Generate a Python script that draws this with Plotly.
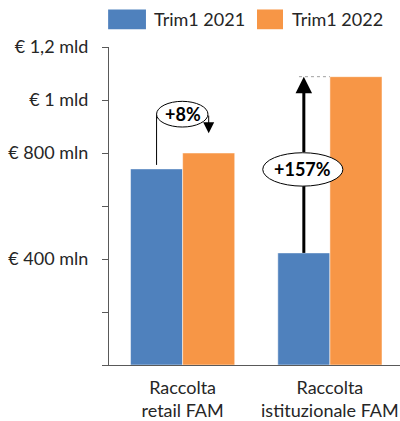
import plotly.graph_objects as go

categories = ["Raccolta<br>retail FAM", "Raccolta<br>istituzionale FAM"]
series_names = ["Trim1 2021", "Trim1 2022"]
values_2021 = [740, 423]
values_2022 = [800, 1088]
tick_vals = [0, 200, 400, 600, 800, 1000, 1200]
tick_text = ["", "", "€ 400 mln", "", "€ 800 mln", "€ 1 mld", "€ 1,2 mld"]
growth_labels = ["+8%", "+157%"]

BLUE = "#4F81BD"
ORANGE = "#F79646"
FONT = "Lato"
AX = "#595959"
TXT = "#262626"
FS = 18

fig = go.Figure()
fig.add_trace(go.Bar(x=categories, y=values_2021, name=series_names[0],
                     marker=dict(color=BLUE, line=dict(color="white", width=0.5)),
                     showlegend=False))
fig.add_trace(go.Bar(x=categories, y=values_2022, name=series_names[1],
                     marker=dict(color=ORANGE, line=dict(color="white", width=0.5)),
                     showlegend=False))

off = 0.177
shapes = []
annotations = []

# retail: +8%
shapes.append(dict(type="line", xref="x", yref="y", x0=-off, x1=-off,
                   y0=values_2021[0] + 15, y1=947, line=dict(color="black", width=1)))
shapes.append(dict(type="circle", xref="x", yref="y", x0=-off, x1=off - 0.005,
                   y0=898, y1=995, fillcolor="white", line=dict(color="black", width=1),
                   layer="above"))
annotations.append(dict(x=off, y=values_2022[0] + 75, ax=off, ay=947, xref="x", yref="y",
                        axref="x", ayref="y", text="", showarrow=True, arrowhead=2,
                        arrowsize=2.2, arrowwidth=1, arrowcolor="black"))
annotations.append(dict(x=0, y=947, xref="x", yref="y", text="<b>" + growth_labels[0] + "</b>",
                        showarrow=False, font=dict(family=FONT, size=FS, color="black")))

# istituzionale: +157%
xi = 1 - off
shapes.append(dict(type="line", xref="x", yref="y", x0=xi, x1=xi,
                   y0=values_2021[1], y1=680, line=dict(color="black", width=3)))
shapes.append(dict(type="circle", xref="x", yref="y", x0=0.544, x1=1.088,
                   y0=675, y1=801, fillcolor="white", line=dict(color="black", width=1),
                   layer="above"))
annotations.append(dict(x=xi, y=values_2022[1], ax=xi, ay=798, xref="x", yref="y",
                        axref="x", ayref="y", text="", showarrow=True, arrowhead=2,
                        arrowsize=1.1, arrowwidth=3, arrowcolor="black"))
shapes.append(dict(type="line", xref="x", yref="y", x0=0.79, x1=1.0,
                   y0=values_2022[1], y1=values_2022[1],
                   line=dict(color="#A0A0A0", width=1, dash="dot")))
annotations.append(dict(x=0.816, y=738, xref="x", yref="y", text="<b>" + growth_labels[1] + "</b>",
                        showarrow=False, font=dict(family=FONT, size=FS, color="black")))

# manual legend
legend_items = [(series_names[0], BLUE, -0.003, 0.127, 0.148),
                (series_names[1], ORANGE, 0.5086, 0.598, 0.622)]
for name, col, x0, x1, xt in legend_items:
    shapes.append(dict(type="rect", xref="paper", yref="paper", x0=x0, x1=x1,
                       y0=1.0559, y1=1.118, fillcolor=col, line=dict(width=0)))
    annotations.append(dict(x=xt, y=1.087, xref="paper", yref="paper", text=name,
                            showarrow=False, xanchor="left", yanchor="middle",
                            font=dict(family=FONT, size=FS, color=TXT)))

fig.update_layout(
    width=400, height=421,
    margin=dict(l=109, r=0, t=47, b=52),
    paper_bgcolor="white", plot_bgcolor="white",
    barmode="group", bargap=0.2925, bargroupgap=0,
    font=dict(family=FONT, size=FS, color=TXT),
    shapes=shapes, annotations=annotations,
    xaxis=dict(range=[-0.5, 1.476], showline=True, linecolor=AX, linewidth=1,
               ticks="", showgrid=False, tickfont=dict(size=FS, color=TXT),
               ticklabelstandoff=6, fixedrange=True),
    yaxis=dict(range=[0, 1200], tickvals=tick_vals, ticktext=tick_text,
               showline=True, linecolor=AX, linewidth=1, ticks="outside", ticklen=6,
               tickcolor=AX, showgrid=False, zeroline=False,
               tickfont=dict(size=FS, color=TXT), ticklabelstandoff=10),
)

fig.write_html("out.html", config={"displayModeBar": False},
               post_script="document.body.style.margin='0';document.body.style.overflow='hidden';")
